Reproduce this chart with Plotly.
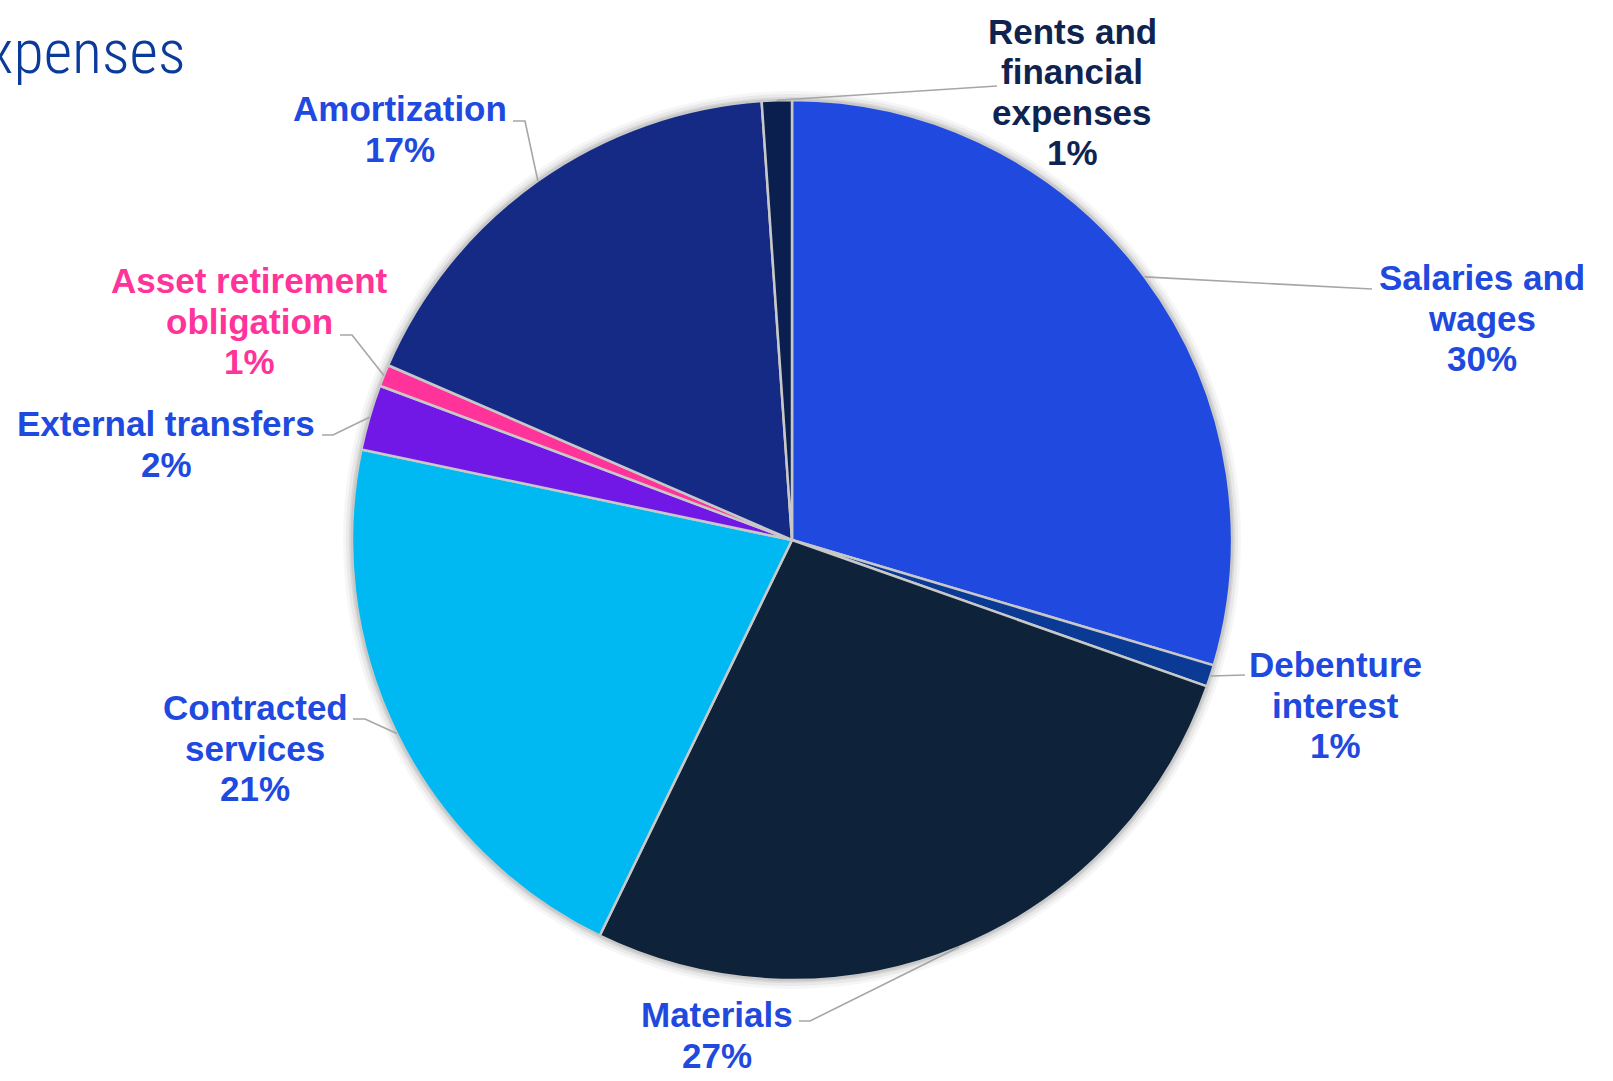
import math
import plotly.graph_objects as go

# Operating expense breakdown (share of total, %)
categories = [
    "Salaries and wages",
    "Debenture interest",
    "Materials",
    "Contracted services",
    "External transfers",
    "Asset retirement obligation",
    "Amortization",
    "Rents and financial expenses",
]
values = [29.6, 0.8, 26.8, 21.1, 2.4, 0.8, 17.4, 1.1]
label_lines = [
    ["Salaries and", "wages"],
    ["Debenture", "interest"],
    ["Materials"],
    ["Contracted", "services"],
    ["External transfers"],
    ["Asset retirement", "obligation"],
    ["Amortization"],
    ["Rents and", "financial", "expenses"],
]
slice_colors = ["#2049E0", "#0A3A93", "#0E233A", "#00B9F2",
                "#7117E6", "#FF3399", "#142A85", "#0A1F4D"]
label_colors = ["#2049E0", "#2049E0", "#2049E0", "#2049E0",
                "#2049E0", "#FF3399", "#2049E0", "#0E2350"]

# ---- layout geometry (pixels) ----
W, H = 1613, 1081
CX, CY, R = 792, 540, 440
LINE_GAP = 40.5
FONT = "Liberation Sans, Arial, sans-serif"
FONT_SIZE = 35

# label block centre and leader-line bend points for each slice
label_centres = [(1482, 318), (1335, 705), (717, 1035), (255, 748),
                 (166, 444), (249, 321), (400, 129), (1072, 92)]
leader_bends = [
    [(1372, 289)],
    [(1245, 675)],
    [(810, 1021), (799, 1021)],
    [(365, 719), (353, 719)],
    [(333, 435), (322, 435)],
    [(352, 335), (340, 335)],
    [(525, 121), (513, 121)],
    [(997, 86)],
]


def px(x):
    return x / W


def py(y):
    return 1 - y / H


fig = go.Figure()

# soft glow around the pie
for grow, alpha in [(9, 0.035), (6, 0.05), (3, 0.07)]:
    fig.add_trace(go.Pie(
        values=[1], labels=[""], sort=False, textinfo="none", hoverinfo="skip",
        marker=dict(colors=[f"rgba(0,0,0,{alpha})"], line=dict(width=0)),
        domain=dict(x=[px(CX - R - grow), px(CX + R + grow)],
                    y=[py(CY + R + grow), py(CY - R - grow)]),
        showlegend=False,
    ))

fig.add_trace(go.Pie(
    labels=categories, values=values, sort=False, direction="clockwise",
    rotation=0, textinfo="none", hoverinfo="label+percent",
    marker=dict(colors=slice_colors, line=dict(color="#C8C8C8", width=2.5)),
    domain=dict(x=[px(CX - R), px(CX + R)], y=[py(CY + R), py(CY - R)]),
    showlegend=False,
))

total = sum(values)
shapes = []
annotations = []
cum = 0.0
for i, v in enumerate(values):
    mid = (cum + v / 2) / total * 2 * math.pi
    cum += v
    ex = CX + R * math.sin(mid)
    ey = CY - R * math.cos(mid)
    pts = [(ex, ey)] + leader_bends[i]
    path = "M " + " L ".join(f"{px(x):.5f},{py(y):.5f}" for x, y in pts)
    shapes.append(dict(type="path", path=path, xref="paper", yref="paper",
                       line=dict(color="#A6A6A6", width=1.6), layer="above"))

    pct = round(v / total * 100)
    lines = label_lines[i] + [f"{pct}%"]
    lx, ly = label_centres[i]
    n = len(lines)
    for k, t in enumerate(lines):
        yk = ly + (k - (n - 1) / 2) * LINE_GAP
        annotations.append(dict(
            text=f"<b>{t}</b>", x=px(lx), y=py(yk), xref="paper", yref="paper",
            xanchor="center", yanchor="middle", showarrow=False,
            font=dict(family=FONT, size=FONT_SIZE, color=label_colors[i]),
        ))

# page heading, partly running off the left edge
annotations.append(dict(
    text="Expenses", x=px(188), y=py(52), xref="paper", yref="paper",
    xanchor="right", yanchor="middle", showarrow=False,
    font=dict(family="Roboto Condensed, Liberation Sans Narrow, sans-serif",
              size=62, color="#0A3A9A", weight=300),
))

fig.update_layout(
    width=W, height=H, margin=dict(l=0, r=0, t=0, b=0),
    paper_bgcolor="white", plot_bgcolor="white",
    shapes=shapes, annotations=annotations,
)

fig.write_html("out.html")
